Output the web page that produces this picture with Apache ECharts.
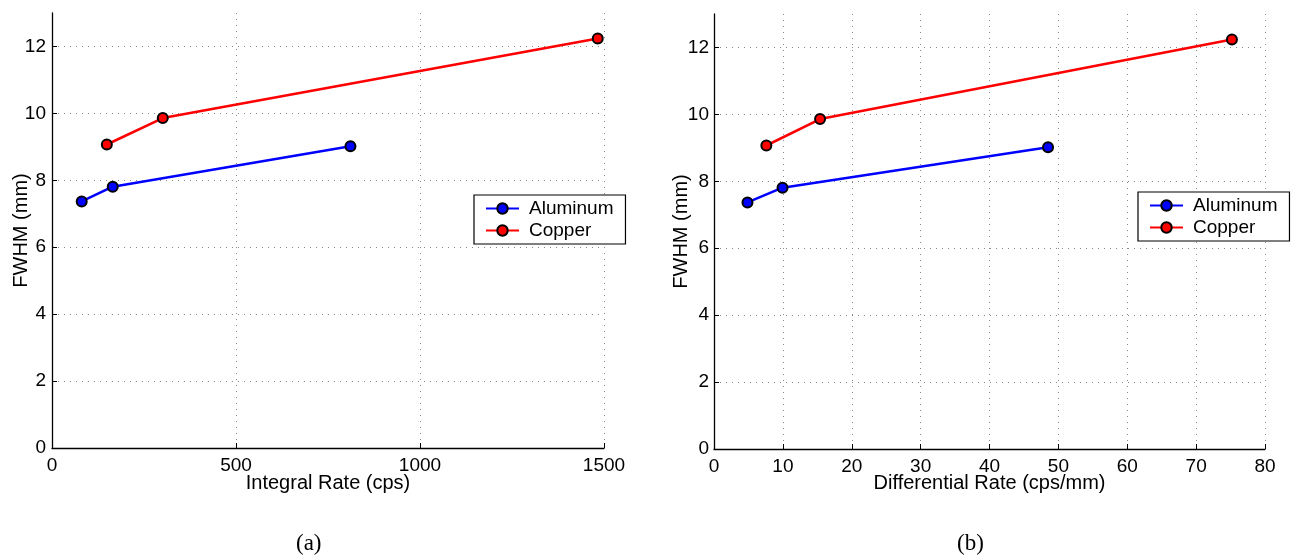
<!DOCTYPE html>
<html>
<head>
<meta charset="utf-8">
<script src="https://cdn.jsdelivr.net/npm/echarts@6/dist/echarts.min.js"></script>
<style>html,body{margin:0;padding:0;background:#fff;}#c{width:1298px;height:559px;}</style>
</head>
<body>
<div id="c"></div>
<script>
// Data
const seriesNames = ['Aluminum', 'Copper'];
const alIntegralX = [80.7, 165, 811];
const alFWHM = [7.37, 7.81, 9.02];
const cuIntegralX = [149, 301, 1483];
const cuFWHM = [9.07, 9.86, 12.24];
const alDiffX = [4.86, 9.95, 48.5];
const cuDiffX = [7.6, 15.4, 75.2];
const yTicks = [0, 2, 4, 6, 8, 10, 12];
const xTicksA = [0, 500, 1000, 1500];
const xTicksB = [0, 10, 20, 30, 40, 50, 60, 70, 80];
const xNameA = 'Integral Rate (cps)';
const xNameB = 'Differential Rate (cps/mm)';
const yName = 'FWHM (mm)';
const captions = ['(a)', '(b)'];

const font = 'Liberation Sans';
const pair = (xs, ys) => xs.map((x, i) => [x, ys[i]]);
const plain = (v) => String(v);

const gridLine = { show: true, lineStyle: { color: '#8a8a8a', type: [1, 5], width: 1 } };
const axisLine = { show: true, onZero: false, lineStyle: { color: '#000', width: 1.3 } };
const axisTick = (vals) => ({ show: true, inside: true, length: 5, customValues: vals, lineStyle: { color: '#000', width: 1 } });

function xAxis(gi, max, interval, ticks, name, gap) {
  return {
    type: 'value', gridIndex: gi, min: 0, max: max, interval: interval,
    name: name, nameLocation: 'middle', nameGap: gap, nameMoveOverlap: false,
    nameTextStyle: { fontFamily: font, fontSize: 20, color: '#000' },
    axisLine: axisLine, axisTick: axisTick(ticks), splitLine: gridLine,
    axisLabel: { customValues: ticks, formatter: plain, margin: 8, fontFamily: font, fontSize: 19, color: '#000' }
  };
}
function yAxis(gi, margin, gap) {
  return {
    type: 'value', gridIndex: gi, min: 0, max: 13,
    name: yName, nameLocation: 'middle', nameGap: gap, nameMoveOverlap: false,
    nameTextStyle: { fontFamily: font, fontSize: 20, color: '#000' },
    axisLine: axisLine, axisTick: axisTick(yTicks), splitLine: gridLine,
    axisLabel: { customValues: yTicks, formatter: plain, margin: margin, fontFamily: font, fontSize: 19, color: '#000' }
  };
}
function line(name, color, xi, data) {
  return {
    name: name, type: 'line', xAxisIndex: xi, yAxisIndex: xi, data: data,
    symbol: 'circle', symbolSize: 10, showSymbol: true,
    lineStyle: { color: color, width: 2.6 },
    itemStyle: { color: color, borderColor: '#000', borderWidth: 2 },
    emphasis: { disabled: true }, animation: false, z: 3
  };
}
function legend(left, top) {
  return {
    data: seriesNames, orient: 'vertical', left: left, top: top,
    backgroundColor: '#fff', borderColor: '#000', borderWidth: 1.2, borderRadius: 0,
    padding: [4, 12, 4, 11], itemGap: 3, itemWidth: 33, itemHeight: 13,
    textStyle: { fontFamily: font, fontSize: 19, color: '#000', padding: [0, 0, 0, 5] },
    selectedMode: false
  };
}

const chart = echarts.init(document.getElementById('c'), null, { renderer: 'canvas' });
chart.setOption({
  animation: false,
  backgroundColor: '#fff',
  grid: [
    { left: 52, top: 13, width: 552, height: 435 },
    { left: 714, top: 14, width: 551, height: 435 }
  ],
  xAxis: [xAxis(0, 1500, 500, xTicksA, xNameA, 25), xAxis(1, 80, 10, xTicksB, xNameB, 24)],
  yAxis: [yAxis(0, 6, 21), yAxis(1, 5, 23)],
  legend: [legend(474, 195), legend(1138, 192)],
  series: [
    line(seriesNames[0], '#0000ff', 0, pair(alIntegralX, alFWHM)),
    line(seriesNames[1], '#ff0000', 0, pair(cuIntegralX, cuFWHM)),
    line(seriesNames[0], '#0000ff', 1, pair(alDiffX, alFWHM)),
    line(seriesNames[1], '#ff0000', 1, pair(cuDiffX, cuFWHM))
  ],
  graphic: [
    { type: 'text', left: 296, top: 532, style: { text: captions[0], font: '23px "Liberation Serif"', fill: '#000' } },
    { type: 'text', left: 957, top: 532, style: { text: captions[1], font: '23px "Liberation Serif"', fill: '#000' } }
  ]
});
</script>
</body>
</html>
